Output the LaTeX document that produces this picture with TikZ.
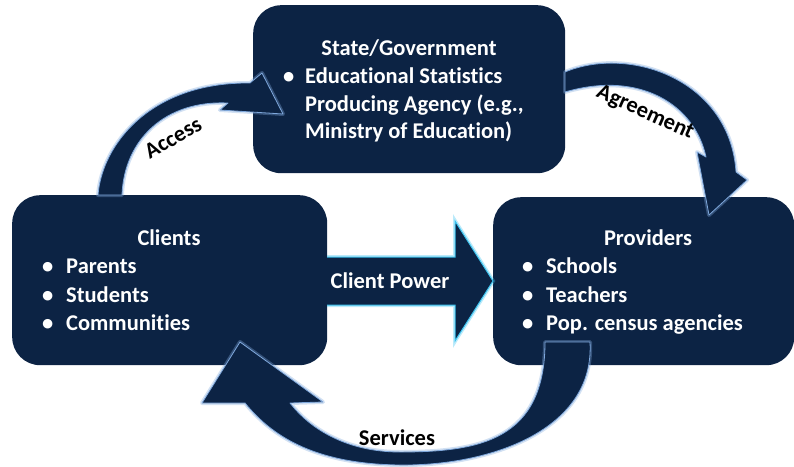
\documentclass[tikz,border=0pt]{standalone}
\usepackage{fontspec}
\setmainfont{Carlito}[Ligatures=NoCommon]
\definecolor{navy}{HTML}{0C2344}
\definecolor{glow}{HTML}{7FA8DC}
\definecolor{cyanglow}{HTML}{3CC3F0}
\begin{document}
\begin{tikzpicture}[x=1pt,y=-1pt,
  box/.style={fill=navy, draw=none, rounded corners=28pt, anchor=north west, inner sep=0pt},
  boxtext/.style={text=white, font=\bfseries\fontsize{22.5}{26}\selectfont, inner sep=0pt},
  lbl/.style={text=black, font=\bfseries\fontsize{22.5}{26}\selectfont, inner sep=0pt},
  blockarrow/.style={fill=navy, draw=glow, line width=0.8pt, line join=round,
    preaction={draw=glow, line width=4pt, opacity=0.35, line join=round}},
  powerarrow/.style={fill=navy, draw=cyanglow, line width=1pt, line join=miter,
    preaction={draw=cyanglow, line width=4pt, opacity=0.35}},
]
\useasboundingbox (0,0) rectangle (794,466);

% boxes
\node[box, minimum width=312pt, minimum height=168pt] (state) at (253,5) {};
\node[box, minimum width=315pt, minimum height=170pt] (clients) at (12,195) {};
\node[box, minimum width=301pt, minimum height=168pt] (providers) at (493,197) {};

% top box text
\node[boxtext, anchor=base] (stateT) at (409,55) {State/Government};
\node[boxtext, anchor=base west] (s1) at (283,83) {\makebox[22pt][l]{•}Educational Statistics};
\node[boxtext, anchor=base west] (s2) at (305,111) {Producing Agency (e.g.,};
\node[boxtext, anchor=base west] (s3) at (305,138) {Ministry of Education)};

% clients text
\node[boxtext, anchor=base] (clientsT) at (169,245) {Clients};
\node[boxtext, anchor=base west] (c1) at (42,273.5) {\makebox[24pt][l]{•}Parents};
\node[boxtext, anchor=base west] (c2) at (42,302) {\makebox[24pt][l]{•}Students};
\node[boxtext, anchor=base west] (c3) at (42,330.5) {\makebox[24pt][l]{•}Communities};

% providers text
\node[boxtext, anchor=base] (providersT) at (648,245) {Providers};
\node[boxtext, anchor=base west] (p1) at (522,273.5) {\makebox[24pt][l]{•}Schools};
\node[boxtext, anchor=base west] (p2) at (522,302) {\makebox[24pt][l]{•}Teachers};
\node[boxtext, anchor=base west] (p3) at (522,330.5) {\makebox[24pt][l]{•}Pop. census agencies};

% Client Power arrow
\path[powerarrow] (327,257) -- (455,257) -- (455,221) -- (493,281) -- (455,341) -- (455,305) -- (327,305);
\node[boxtext, anchor=base] (power) at (390,288) {Client Power};

% Access arrow
\path[blockarrow] (98,195) .. controls (102,145) and (150,82) .. (250,83) -- (262,73) -- (283,114) -- (220,110) -- (228,103) .. controls (165,100) and (124,140) .. (122,195) -- cycle;
\node[lbl, rotate=30] (access) at (173,138) {Access};

% Agreement arrow
\path[blockarrow] (565,72) .. controls (630,45) and (730,80) .. (736,172) -- (747,180) -- (709,215) -- (697,152) -- (706,157) .. controls (695,105) and (640,70) .. (565,92) -- cycle;
\node[lbl, rotate=-24] (agreement) at (645,113) {Agreement};

% Services arrow
\path[blockarrow] (590,342) .. controls (595,430) and (490,466) .. (400,465) .. controls (320,464) and (275,440) .. (245,403) -- (202,403) -- (240,342) -- (323,402) -- (290,403) .. controls (315,435) and (355,452) .. (400,452) .. controls (480,452) and (545,440) .. (545,342) -- cycle;
\node[lbl, anchor=base] (services) at (397,445) {Services};
\end{tikzpicture}
\end{document}
